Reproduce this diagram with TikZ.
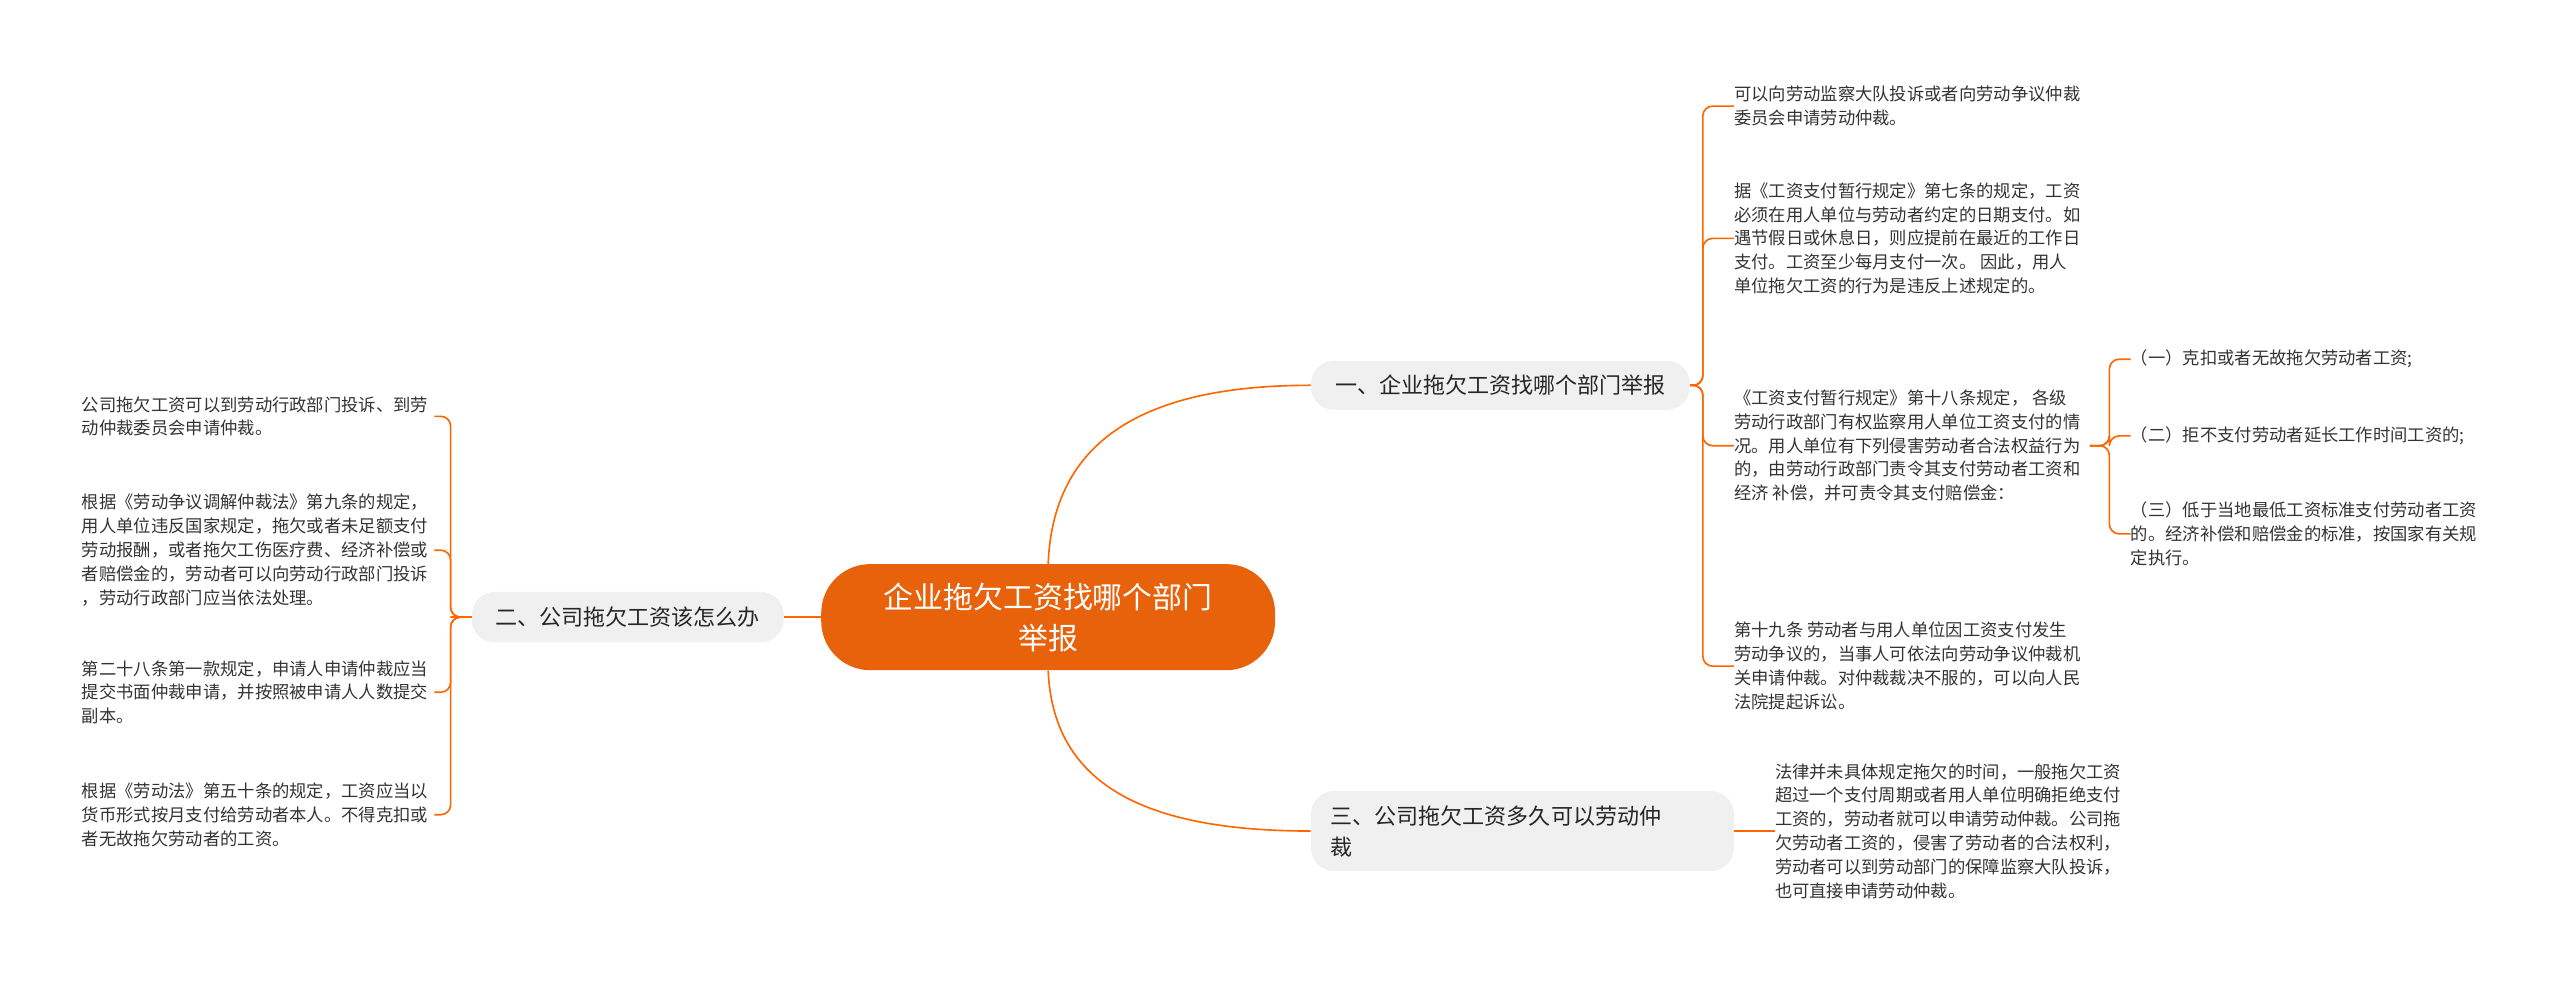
\documentclass[tikz,border=0pt]{standalone}
\usepackage{fontspec}
\setmainfont{Noto Sans CJK SC}
\begin{document}
\begin{tikzpicture}[x=1pt,y=-1pt,
  line/.style={draw=orange!80!red, line width=1pt},
  leaf/.style={font=\fontsize{10.6}{14.6}\selectfont, align=left, anchor=west, inner sep=0pt, text=black!80},
  branch/.style={fill=gray!12, rounded corners=14pt, font=\fontsize{13.5}{19}\selectfont, align=left, inner sep=0pt, text=black!85}]
\useasboundingbox (0,0) rectangle (1568,602);
\definecolor{main}{HTML}{E8620C}
\node[fill=main, rounded corners=30pt, minimum width=278pt, minimum height=65pt, text=white, font=\fontsize{18.3}{25}\selectfont, align=center] (c) at (642,378) {企业拖欠工资找哪个部门\\举报};
\node[branch, minimum width=232pt, minimum height=30pt] (b1) at (919,236) {一、企业拖欠工资找哪个部门举报};
\node[branch, minimum width=191pt, minimum height=31pt] (b2) at (384.5,378) {二、公司拖欠工资该怎么办};
\node[branch, minimum width=259pt, minimum height=49pt, text width=235pt] (b3) at (932.5,509) {三、公司拖欠工资多久可以劳动仲\\裁};
\draw[line] (c.north) .. controls (645,270) and (700,236) .. (b1.west);
\draw[line] (c.south) .. controls (645,480) and (700,509) .. (b3.west);
\draw[line] (c.west) -- (b2.east);
% right leaves
\node[leaf] (r1) at (1062,65) {可以向劳动监察大队投诉或者向劳动争议仲裁\\委员会申请劳动仲裁。};
\node[leaf] (r2) at (1062,146) {据《工资支付暂行规定》第七条的规定，工资\\必须在用人单位与劳动者约定的日期支付。如\\遇节假日或休息日，则应提前在最近的工作日\\支付。工资至少每月支付一次。 因此，用人\\单位拖欠工资的行为是违反上述规定的。};
\node[leaf] (r3) at (1062,273) {《工资支付暂行规定》第十八条规定， 各级\\劳动行政部门有权监察用人单位工资支付的情\\况。用人单位有下列侵害劳动者合法权益行为\\的，由劳动行政部门责令其支付劳动者工资和\\经济 补偿，并可责令其支付赔偿金：};
\node[leaf] (r4) at (1062,408) {第十九条 劳动者与用人单位因工资支付发生\\劳动争议的，当事人可依法向劳动争议仲裁机\\关申请仲裁。对仲裁裁决不服的，可以向人民\\法院提起诉讼。};
\foreach \n in {r1,r2,r3,r4}
  \draw[line, rounded corners=6pt] (b1.east) -- (1043,236) |- (\n.west);
\node[leaf] (s1) at (1305,220) {（一）克扣或者无故拖欠劳动者工资;};
\node[leaf] (s2) at (1305,267) {（二）拒不支付劳动者延长工作时间工资的;};
\node[leaf] (s3) at (1305,327) {（三）低于当地最低工资标准支付劳动者工资\\的。经济补偿和赔偿金的标准，按国家有关规\\定执行。};
\foreach \n in {s1,s2,s3}
  \draw[line, rounded corners=6pt] (1280,273) -- (1292,273) |- (\n.west);
% branch 3 leaf
\node[leaf] (t1) at (1087,509) {法律并未具体规定拖欠的时间，一般拖欠工资\\超过一个支付周期或者用人单位明确拒绝支付\\工资的，劳动者就可以申请劳动仲裁。公司拖\\欠劳动者工资的，侵害了劳动者的合法权利，\\劳动者可以到劳动部门的保障监察大队投诉，\\也可直接申请劳动仲裁。};
\draw[line] (b3.east) -- (t1.west);
% left leaves
\node[leaf] (l1) at (50,255) {公司拖欠工资可以到劳动行政部门投诉、到劳\\动仲裁委员会申请仲裁。};
\node[leaf] (l2) at (50,337) {根据《劳动争议调解仲裁法》第九条的规定，\\用人单位违反国家规定，拖欠或者未足额支付\\劳动报酬，或者拖欠工伤医疗费、经济补偿或\\者赔偿金的，劳动者可以向劳动行政部门投诉\\，劳动行政部门应当依法处理。};
\node[leaf] (l3) at (50,424) {第二十八条第一款规定，申请人申请仲裁应当\\提交书面仲裁申请，并按照被申请人人数提交\\副本。};
\node[leaf] (l4) at (50,499) {根据《劳动法》第五十条的规定，工资应当以\\货币形式按月支付给劳动者本人。不得克扣或\\者无故拖欠劳动者的工资。};
\foreach \n/\y in {l1/255,l2/337,l3/424,l4/499}
  \draw[line, rounded corners=6pt] (b2.west) -- (282,378) -- (276,378) |- (266,\y);
\end{tikzpicture}
\end{document}
